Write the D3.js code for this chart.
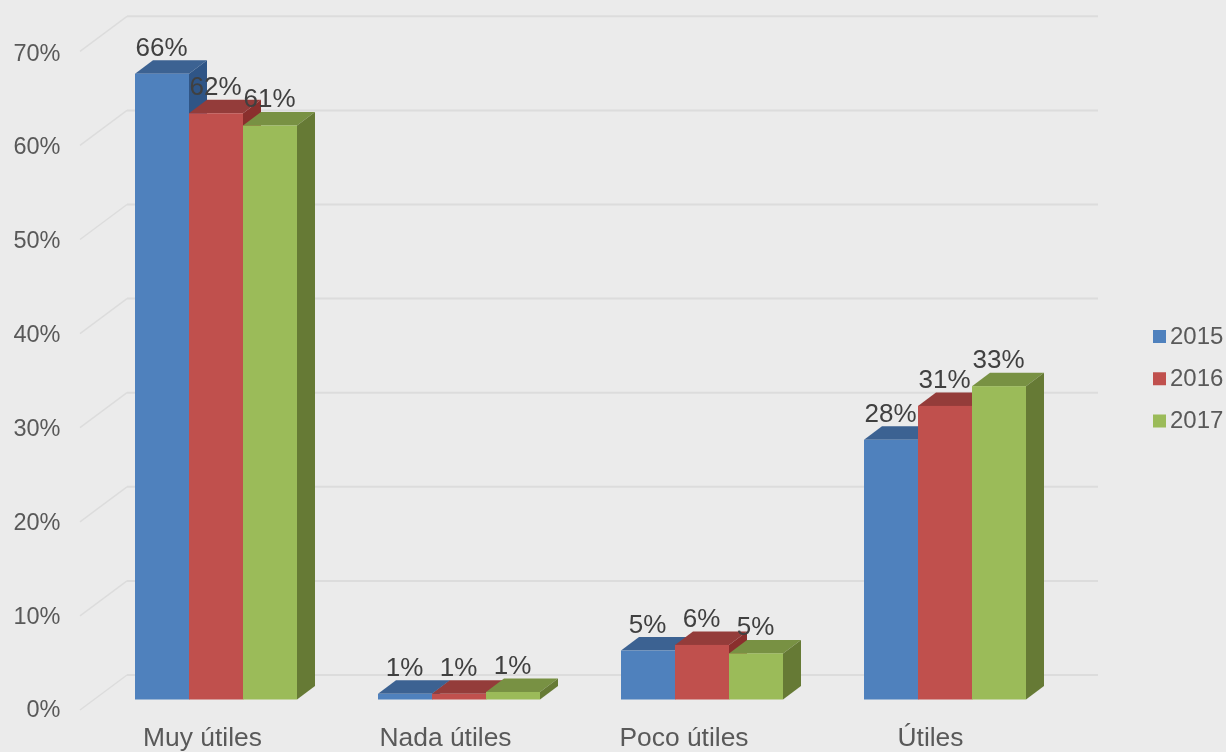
<!DOCTYPE html>
<html><head><meta charset="utf-8">
<script src="https://cdn.jsdelivr.net/npm/d3@7"></script>
<style>html,body{margin:0;padding:0;background:#ebebeb;overflow:hidden}svg{display:block;font-family:"Liberation Sans",Arial,sans-serif;filter:blur(0.45px)}</style>
</head><body><svg id="c" width="1226" height="752"></svg>
<script>
const categories = ["Muy útiles","Nada útiles","Poco útiles","Útiles"];
const seriesNames = ["2015","2016","2017"];
const values2015 = [66.5,0.6,5.2,27.6];
const values2016 = [62.3,0.6,5.8,31.2];
const values2017 = [61.0,0.8,4.9,33.3];
const labels2015 = ["66%","1%","5%","28%"];
const labels2016 = ["62%","1%","6%","31%"];
const labels2017 = ["61%","1%","5%","33%"];
const tickValues = [0,10,20,30,40,50,60,70];
const colors = {front:["#4f81bd","#c0504d","#9bbb59"],top:["#3c6292","#943c3a","#789143"],side:["#2f5586","#8a2f2d","#667a35"]};

const svg = d3.select("#c");
const values = [values2015,values2016,values2017], labels=[labels2015,labels2016,labels2017];
const x0 = d3.scaleBand().domain(categories).range([94.5,1066.5]).paddingInner(1/3).paddingOuter(1/6);
const x1 = d3.scaleBand().domain(seriesNames).range([0,x0.bandwidth()]);
const y = d3.scaleLinear().domain([0,70]).range([699.5,40.8]);
const depth = {dx:18,dy:-13.5}, wall = {dx:47,dy:-35,frontY:10.5,frontX:80,right:1098};

// grid
const grid = svg.append("g").attr("fill","none");
tickValues.forEach(t=>{
  const fy = y(t)+wall.frontY;
  grid.append("path").attr("d",`M${wall.frontX},${fy}L${wall.frontX+wall.dx},${fy+wall.dy}`).attr("stroke","#dcdcdc").attr("stroke-width",1.5);
  grid.append("path").attr("d",`M${wall.frontX+wall.dx},${fy+wall.dy}L${wall.right},${fy+wall.dy}`).attr("stroke","#dcdcdc").attr("stroke-width",2);
  svg.append("text").attr("x",60.5).attr("y",fy+(t==0?-1:t==70?1.5:0)).attr("dy","0.35em").attr("text-anchor","end").attr("font-size",23.5).attr("fill","#595959").text(t+"%");
});

// bars
seriesNames.forEach((s,si)=>{
  const g = svg.append("g");
  categories.forEach((c,ci)=>{
    const xl = x0(c)+x1(s), w = x1.bandwidth(), t = y(values[si][ci]), b = y(0);
    const {dx,dy} = depth;
    g.append("path").attr("d",`M${xl},${t}L${xl+dx},${t+dy}L${xl+w+dx},${t+dy}L${xl+w},${t}Z`).attr("fill",colors.top[si]);
    g.append("path").attr("d",`M${xl+w},${t}L${xl+w+dx},${t+dy}L${xl+w+dx},${b+dy}L${xl+w},${b}Z`).attr("fill",colors.side[si]);
    g.append("rect").attr("x",xl).attr("y",t).attr("width",w).attr("height",b-t).attr("fill",colors.front[si]);
  });
});

// data labels
seriesNames.forEach((s,si)=>{
  categories.forEach((c,ci)=>{
    svg.append("text").attr("x",x0(c)+x1(s)+x1.bandwidth()/2-0.5).attr("y",y(values[si][ci])-18)
      .attr("text-anchor","middle").attr("font-size",26).attr("fill","#404040").text(labels[si][ci]);
  });
});

// category labels: the reference sets each a little left of its group's centre
categories.forEach((c,i)=>{
  const shift = i===2 ? -18 : i===3 ? -14.5 : -13.5;
  svg.append("text").attr("x",x0(c)+x0.bandwidth()/2+shift).attr("y",746).attr("text-anchor","middle").attr("font-size",26.4).attr("fill","#595959").text(c);
});

// legend
const legY = d3.scalePoint().domain(seriesNames).range([336.5,421]);
seriesNames.forEach((s,i)=>{
  svg.append("rect").attr("x",1153).attr("y",legY(s)-6.5).attr("width",13).attr("height",13).attr("fill",colors.front[i]);
  svg.append("text").attr("x",1170).attr("y",legY(s)-1.3).attr("dy","0.35em").attr("font-size",24).attr("fill","#595959").text(s);
});
</script></body></html>
